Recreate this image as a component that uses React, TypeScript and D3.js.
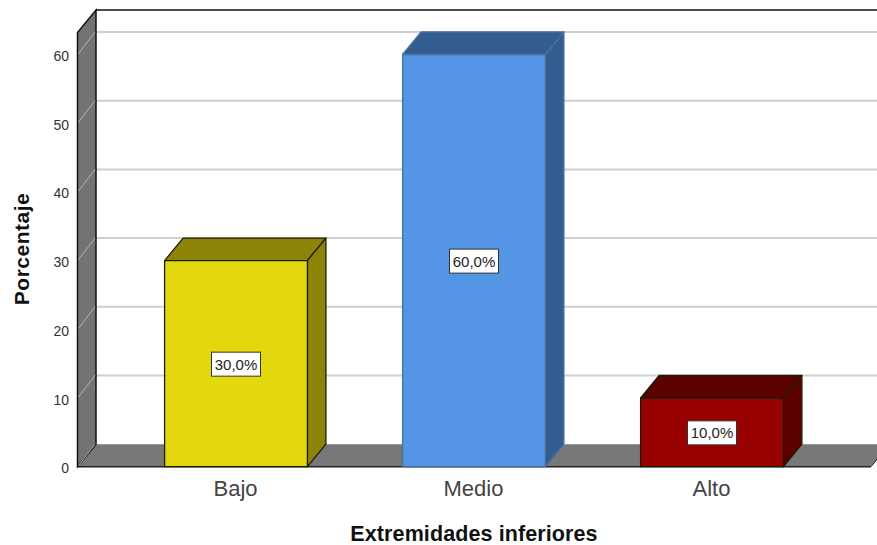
import React from "react";
import * as d3 from "d3";

const categories = ["Bajo", "Medio", "Alto"];
const percentages = [30, 60, 10];
const valueLabels = ["30,0%", "60,0%", "10,0%"];
const frontColors = ["#e3d80e", "#5595e6", "#990000"];
const sideColors = ["#8c8408", "#335c8f", "#5c0000"];
const yTicks = [0, 10, 20, 30, 40, 50, 60];
const xAxisTitle = "Extremidades inferiores";
const yAxisTitle = "Porcentaje";

const W = 877;
const H = 545;
const FRONT_LEFT = 77.5;
const FRONT_RIGHT = 871;
const DX = 18.5;
const DY = -22.5;
const TOP = 10;
const FONT = "'Liberation Sans', Arial, sans-serif";

const y = d3.scaleLinear().domain([0, 60]).range([466.7, 54.5]);
const x = d3.scaleBand<string>().domain(categories).range([117, 831]).paddingInner(0.4).paddingOuter(0.2);

const poly = (pts: [number, number][]) => d3.line()(pts) + "Z";

export default function App() {
  const y0 = y(0);
  const backLeft = FRONT_LEFT + DX;
  return (
    <svg
      width={W}
      height={H}
      viewBox={`0 0 ${W} ${H}`}
      style={{ position: "absolute", left: 0, top: 0, background: "#fff" }}
      fontFamily={FONT}
    >
      {/* back wall gridlines */}
      {yTicks.slice(1).map((t) => (
        <line key={t} x1={backLeft} x2={W} y1={y(t) + DY} y2={y(t) + DY} stroke="#cfcfcf" strokeWidth={2} />
      ))}

      {/* floor */}
      <path
        d={poly([
          [FRONT_LEFT, y0],
          [backLeft, y0 + DY],
          [FRONT_RIGHT + DX, y0 + DY],
          [FRONT_RIGHT, y0],
        ])}
        fill="#787878"
      />
      <line x1={FRONT_LEFT} x2={FRONT_RIGHT} y1={y0} y2={y0} stroke="#222" strokeWidth={1.5} />
      <line x1={FRONT_RIGHT} x2={FRONT_RIGHT + DX} y1={y0} y2={y0 + DY} stroke="#222" strokeWidth={1} />

      {/* left wall */}
      <path
        d={poly([
          [FRONT_LEFT, y0],
          [FRONT_LEFT, TOP - DY],
          [backLeft, TOP],
          [backLeft, y0 + DY],
        ])}
        fill="#737373"
        stroke="#111"
        strokeWidth={1.5}
      />
      {yTicks.map((t) => (
        <line key={t} x1={FRONT_LEFT + 1} x2={backLeft - 1} y1={y(t) - 1} y2={y(t) + DY} stroke="#b5b5b5" strokeWidth={1} />
      ))}
      <line x1={backLeft} x2={W} y1={TOP} y2={TOP} stroke="#111" strokeWidth={1.7} />

      {/* bars */}
      {categories.map((c, i) => {
        const v = percentages[i];
        const l = x(c)!;
        const r = l + x.bandwidth();
        const t = y(v);
        const edge = c === "Medio" ? "#4a6f9c" : "#1c1c00";
        return (
          <g key={c} stroke={edge} strokeWidth={1.3} strokeLinejoin="round">
            <path d={poly([[l, t], [l + DX, t + DY], [r + DX, t + DY], [r, t]])} fill={sideColors[i]} />
            <path d={poly([[r, t], [r + DX, t + DY], [r + DX, y0 + DY], [r, y0]])} fill={sideColors[i]} />
            <rect x={l} y={t} width={r - l} height={y0 - t} fill={frontColors[i]} />
          </g>
        );
      })}

      {/* value labels */}
      {categories.map((c, i) => {
        const cx = x(c)! + x.bandwidth() / 2;
        const cy = (y(percentages[i]) + y0) / 2 + 0.5;
        return (
          <g key={c}>
            <rect x={cx - 24.5} y={cy - 12} width={49} height={24} fill="#fff" stroke="#333" strokeWidth={1} />
            <text x={cx} y={cy + 5.5} textAnchor="middle" fontSize={15} fill="#222">
              {valueLabels[i]}
            </text>
          </g>
        );
      })}

      {/* y axis */}
      {yTicks.map((t) => (
        <text key={t} x={69} y={y(t) + 6.5} textAnchor="end" fontSize={14} fill="#333">
          {t}
        </text>
      ))}
      <text
        transform="translate(29,249) rotate(-90)"
        textAnchor="middle"
        fontSize={21}
        fontWeight="bold"
        letterSpacing={0.5}
        fill="#111"
      >
        {yAxisTitle}
      </text>

      {/* x axis */}
      {categories.map((c) => (
        <text key={c} x={x(c)! + x.bandwidth() / 2 - 0.5} y={496} textAnchor="middle" fontSize={22} fill="#444">
          {c}
        </text>
      ))}
      <text x={474} y={541} textAnchor="middle" fontSize={21.5} fontWeight="bold" letterSpacing={0.1} fill="#111">
        {xAxisTitle}
      </text>
    </svg>
  );
}
